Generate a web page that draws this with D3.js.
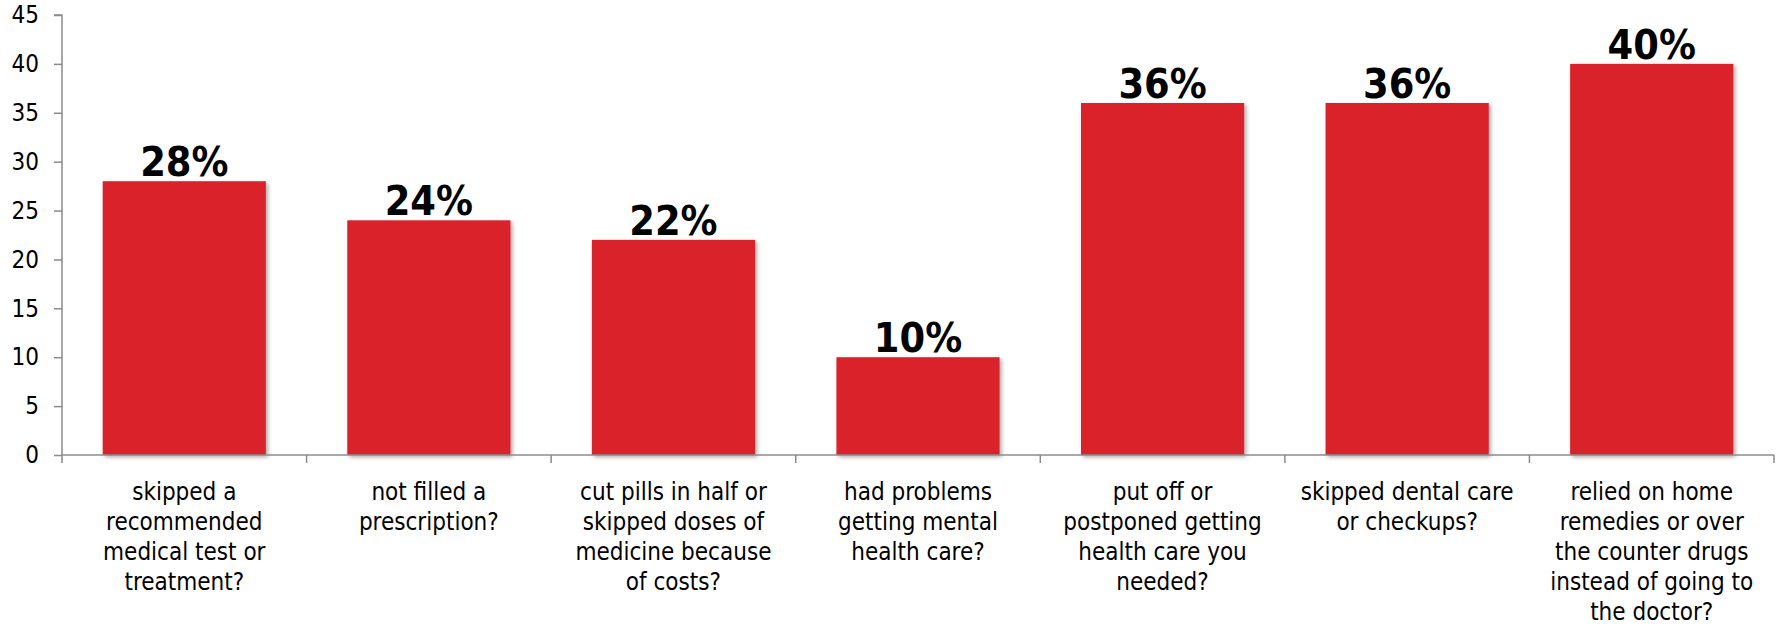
<!DOCTYPE html>
<html>
<head>
<meta charset="utf-8">
<script src="https://cdn.jsdelivr.net/npm/d3@7"></script>
<style>
  html, body { margin: 0; padding: 0; background: #fff; }
  svg { display: block; }
  text { font-family: "DejaVu Sans Condensed", "DejaVu Sans", sans-serif; fill: #000; }
</style>
</head>
<body>
<svg id="chart" width="1777" height="627"></svg>
<script>
// Survey responses: share of people who, because of cost, ...
const categories = [
  ["skipped a", "recommended", "medical test or", "treatment?"],
  ["not filled a", "prescription?"],
  ["cut pills in half or", "skipped doses of", "medicine because", "of costs?"],
  ["had problems", "getting mental", "health care?"],
  ["put off or", "postponed getting", "health care you", "needed?"],
  ["skipped dental care", "or checkups?"],
  ["relied on home", "remedies or over", "the counter drugs", "instead of going to", "the doctor?"]
];
const values = [28, 24, 22, 10, 36, 36, 40];
const yTicks = [0, 5, 10, 15, 20, 25, 30, 35, 40, 45];

const svg = d3.select("#chart");
const margin = { left: 62, right: 3, top: 15, bottom: 172 };
const width = 1777, height = 627;
const x0 = margin.left, x1 = width - margin.right;
const y0 = height - margin.bottom, y1 = margin.top;

const ids = categories.map((d, i) => i);
const x = d3.scaleBand().domain(ids).range([x0, x1]).paddingInner(0.333).paddingOuter(0.1665);
const xOuter = d3.scaleBand().domain(ids).range([x0, x1]);
const y = d3.scaleLinear().domain([0, 45]).range([y0, y1]);

// soft shadow under bars
const defs = svg.append("defs");
const f = defs.append("filter").attr("id", "shadow").attr("x", "-10%").attr("y", "-10%").attr("width", "130%").attr("height", "130%");
f.append("feDropShadow").attr("dx", 2).attr("dy", 2).attr("stdDeviation", 2)
  .attr("flood-color", "#000").attr("flood-opacity", 0.35);

// bars
svg.append("g").selectAll("rect").data(values).join("rect")
  .attr("x", (d, i) => x(i))
  .attr("width", x.bandwidth())
  .attr("y", d => y(d))
  .attr("height", d => y(0) - y(d))
  .attr("fill", "#d9202a")
  .attr("filter", "url(#shadow)");

// y axis
const yAxis = svg.append("g").attr("transform", `translate(${x0},0)`)
  .call(d3.axisLeft(y).tickValues(yTicks).tickSize(8).tickPadding(15));
yAxis.select(".domain").attr("stroke", "#8c8c8c").attr("stroke-width", 1.5)
  .attr("d", `M-8,${y1}H0V${y0 + 8}`);
yAxis.selectAll(".tick line").attr("stroke", "#8c8c8c").attr("stroke-width", 1.5);
yAxis.selectAll(".tick text").attr("font-size", 24).style("font-family", "'DejaVu Sans Condensed', 'DejaVu Sans', sans-serif").attr("fill", "#000");

// x axis baseline with category boundary ticks
const xg = svg.append("g");
xg.append("line").attr("x1", x0).attr("x2", x1).attr("y1", y0).attr("y2", y0)
  .attr("stroke", "#8c8c8c").attr("stroke-width", 1.5);
const bounds = ids.map(i => xOuter(i) + xOuter.bandwidth());
xg.selectAll("line.tick").data(bounds).join("line").attr("class", "tick")
  .attr("x1", d => d).attr("x2", d => d).attr("y1", y0).attr("y2", y0 + 8)
  .attr("stroke", "#8c8c8c").attr("stroke-width", 1.5);

// category labels
const lab = svg.append("g").selectAll("text").data(categories).join("text")
  .attr("text-anchor", "middle")
  .attr("font-size", 24)
  .attr("x", (d, i) => xOuter(i) + xOuter.bandwidth() / 2)
  .attr("y", y0 + 45);
lab.selectAll("tspan").data(d => d).join("tspan")
  .attr("x", function () { return d3.select(this.parentNode).attr("x"); })
  .attr("dy", (d, i) => i === 0 ? 0 : 30)
  .text(d => d);

// value labels
svg.append("g").selectAll("text").data(values).join("text")
  .attr("text-anchor", "middle")
  .attr("font-size", 41)
  .attr("font-weight", "bold")
  .attr("x", (d, i) => x(i) + x.bandwidth() / 2)
  .attr("y", d => y(d) - 5)
  .text(d => d + "%");
</script>
</body>
</html>
